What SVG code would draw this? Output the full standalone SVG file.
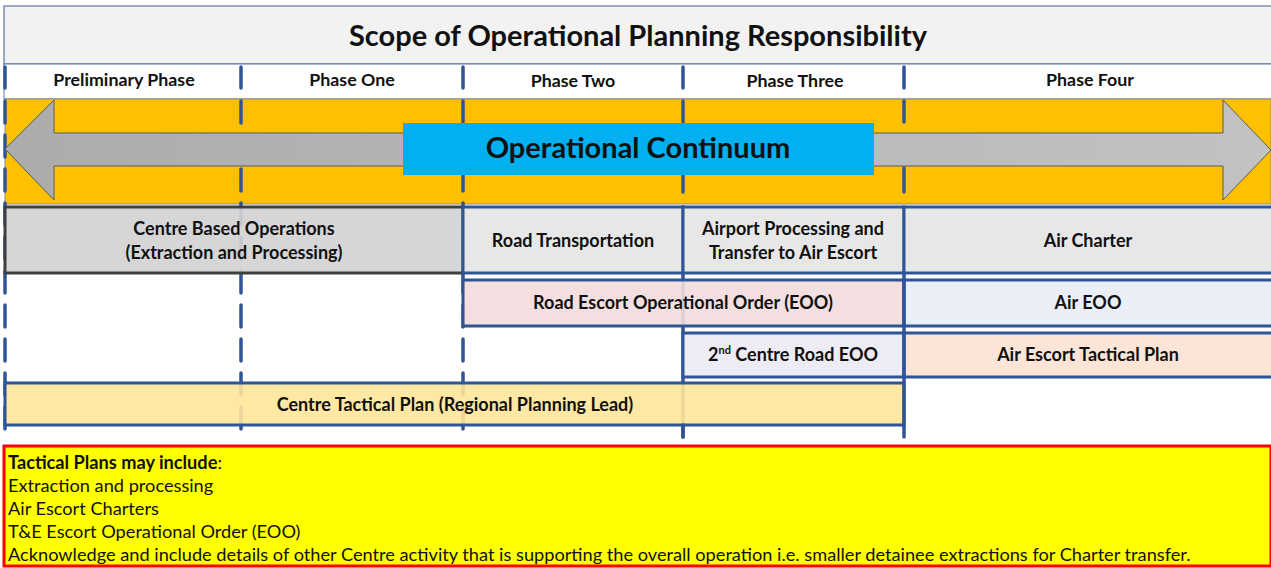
<svg xmlns="http://www.w3.org/2000/svg" width="1271" height="568" viewBox="0 0 1271 568">
  <defs>
    <linearGradient id="arrowFill" x1="0" y1="0" x2="1" y2="0">
      <stop offset="0" stop-color="#acacac"/>
      <stop offset="1" stop-color="#c2c2c2"/>
    </linearGradient>
    <style>
      text { font-family: Lato, "Open Sans", "Liberation Sans", sans-serif; fill: #111; }
      .b { font-weight: bold; }
      .title { font-size: 29px; font-weight: bold; }
      .phase { font-size: 17.8px; font-weight: bold; text-anchor: middle; }
      .lbl { font-size: 18px; font-weight: bold; text-anchor: middle; }
      .note { font-size: 18.2px; }
      .cell { stroke: #2f5597; stroke-width: 3; }
      .divider { stroke: #2f5597; stroke-width: 3.5; stroke-linecap: round; fill: none; }
      .dash { stroke-dasharray: 22 12; }
    </style>
  </defs>

  <rect width="1271" height="568" fill="#ffffff"/>

  <!-- title bar -->
  <g id="title">
    <rect x="4" y="6" width="1270" height="58" fill="#f2f2f2" stroke="#5b76a6" stroke-width="1.2"/>
    <text class="title" x="638" y="46" text-anchor="middle">Scope of Operational Planning Responsibility</text>
  </g>

  <!-- phase header row -->
  <g id="phases">
    <rect x="4" y="64" width="1270" height="35" fill="#ffffff" stroke="#5b76a6" stroke-width="1"/>
    <text class="phase" x="124" y="86">Preliminary Phase</text>
    <text class="phase" x="352" y="86">Phase One</text>
    <text class="phase" x="573" y="87">Phase Two</text>
    <text class="phase" x="795" y="87">Phase Three</text>
    <text class="phase" x="1090" y="86">Phase Four</text>
  </g>

  <!-- continuum band -->
  <g id="continuum-band">
    <rect x="5" y="99" width="1266" height="105" fill="#ffc000" stroke="#8a8a8a" stroke-width="1"/>
  </g>

  <!-- phase dividers -->
  <g id="phase-dividers">
    <line class="divider" x1="5" y1="67" x2="5" y2="88"/>
    <line class="divider" x1="241" y1="67" x2="241" y2="88"/>
    <line class="divider" x1="463" y1="67" x2="463" y2="88"/>
    <line class="divider" x1="683" y1="67" x2="683" y2="88"/>
    <line class="divider" x1="904" y1="67" x2="904" y2="88"/>

    <line class="divider dash" x1="5" y1="101" x2="5" y2="440"/>
    <line class="divider dash" x1="241" y1="101" x2="241" y2="436"/>
    <line class="divider dash" x1="463" y1="101" x2="463" y2="436"/>
    <line class="divider" x1="683" y1="101" x2="683" y2="122"/>
    <line class="divider" x1="683" y1="168" x2="683" y2="192"/>
    <line class="divider" x1="683" y1="207" x2="683" y2="437"/>
    <line class="divider" x1="904" y1="101" x2="904" y2="122"/>
    <line class="divider" x1="904" y1="168" x2="904" y2="192"/>
  </g>

  <!-- double-headed arrow -->
  <g id="continuum-arrow">
    <path d="M5,149 L54,100 L54,133 L1223,133 L1223,100 L1271,150 L1223,200 L1223,166 L54,166 L54,200 Z" fill="url(#arrowFill)" stroke="#5a5a5a" stroke-width="1"/>
  </g>

  <g id="operational-continuum">
    <rect x="403" y="123" width="471" height="52" fill="#00b0f0"/>
    <text class="title" x="638" y="158" text-anchor="middle">Operational Continuum</text>
  </g>

  <!-- row 1 -->
  <g id="centre-based-operations">
    <rect x="5" y="207" width="458" height="66" fill="#d2d2d2" fill-opacity="0.92" stroke="#3f3f3f" stroke-width="3"/>
    <text class="lbl" x="234" y="235">Centre Based Operations</text>
    <text class="lbl" x="234" y="259">(Extraction and Processing)</text>
  </g>
  <g id="road-transportation">
    <rect x="463" y="207" width="220" height="66" fill="#e7e7e7" class="cell"/>
    <text class="lbl" x="573" y="247">Road Transportation</text>
  </g>
  <g id="airport-processing">
    <rect x="683" y="207" width="221" height="66" fill="#e7e7e7" class="cell"/>
    <text class="lbl" x="793" y="235">Airport Processing and</text>
    <text class="lbl" x="793" y="259">Transfer to Air Escort</text>
  </g>
  <g id="air-charter">
    <rect x="904" y="207" width="369" height="66" fill="#e7e7e7" class="cell"/>
    <text class="lbl" x="1088" y="247">Air Charter</text>
  </g>

  <!-- row 2 -->
  <g id="road-escort-eoo">
    <rect x="463" y="280" width="441" height="46" fill="#f2dcdb" fill-opacity="0.9" class="cell"/>
    <text class="lbl" x="683" y="309">Road Escort Operational Order (EOO)</text>
  </g>
  <g id="air-eoo">
    <rect x="904" y="280" width="369" height="46" fill="#eaeff7" class="cell"/>
    <text class="lbl" x="1088" y="309">Air EOO</text>
  </g>

  <!-- row 3 -->
  <g id="second-centre-road-eoo">
    <rect x="683" y="333" width="221" height="44" fill="#edebf3" class="cell"/>
    <text class="lbl" x="793" y="361">2<tspan font-size="11" dy="-7">nd</tspan><tspan dy="7"> Centre Road EOO</tspan></text>
  </g>
  <g id="air-escort-tactical-plan">
    <rect x="904" y="333" width="369" height="44" fill="#fce4d6" class="cell"/>
    <text class="lbl" x="1088" y="361">Air Escort Tactical Plan</text>
  </g>

  <!-- row 4 -->
  <g id="centre-tactical-plan">
    <rect x="5" y="383" width="899" height="42" fill="#ffe699" fill-opacity="0.9" class="cell"/>
    <text class="lbl" x="455" y="411">Centre Tactical Plan (Regional Planning Lead)</text>
  </g>

  <!-- lower ends of the phase three / four boundaries -->
  <g id="boundary-ends">
    <line class="divider" x1="683" y1="425" x2="683" y2="437"/>
    <line class="divider" x1="904" y1="273" x2="904" y2="437"/>
  </g>

  <!-- notes panel -->
  <g id="notes">
    <rect x="4" y="446" width="1267" height="120" fill="#ffff00" stroke="#ff0000" stroke-width="3"/>
    <text class="note" x="8" y="469"><tspan class="b">Tactical Plans may include</tspan>:</text>
    <text class="note" x="8" y="492">Extraction and processing</text>
    <text class="note" x="8" y="515">Air Escort Charters</text>
    <text class="note" x="8" y="538">T&amp;E Escort Operational Order (EOO)</text>
    <text class="note" x="8" y="561">Acknowledge and include details of other Centre activity that is supporting the overall operation i.e. smaller detainee extractions for Charter transfer.</text>
  </g>
</svg>
